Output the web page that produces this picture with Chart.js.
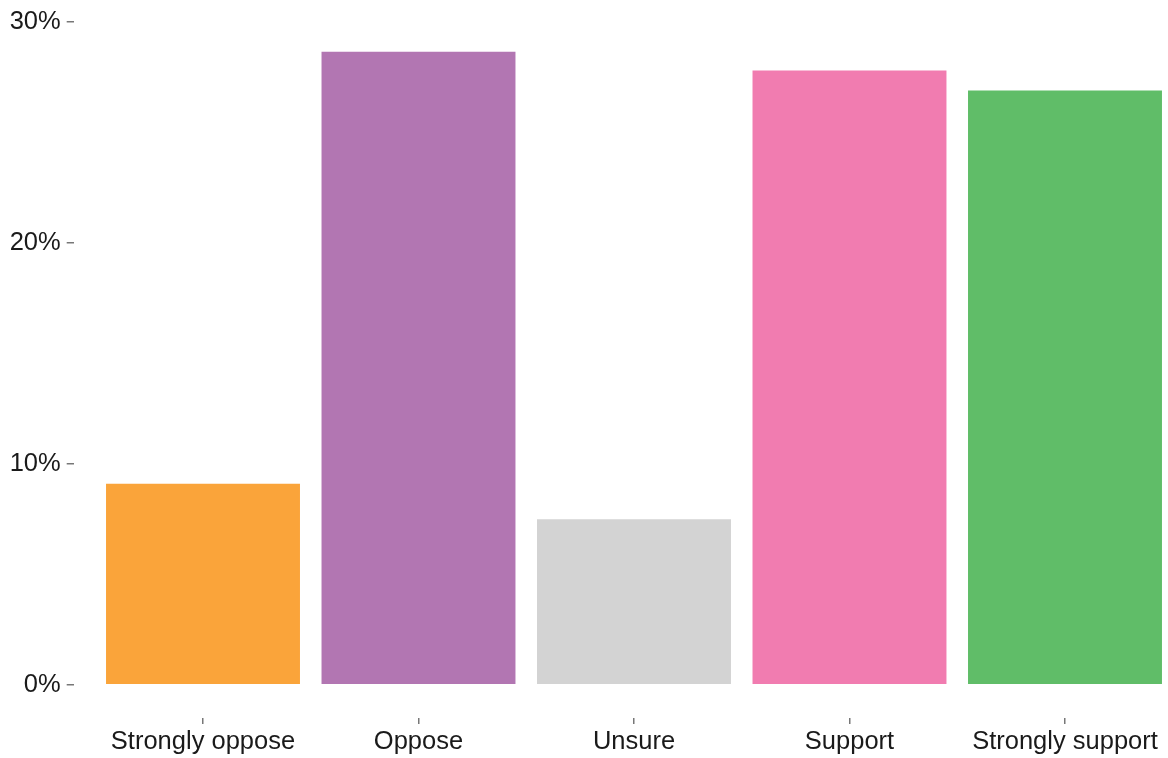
<!DOCTYPE html>
<html>
<head>
<meta charset="utf-8">
<script src="https://cdn.jsdelivr.net/npm/chart.js@4"></script>
<style>
  html, body { margin: 0; padding: 0; background: #fff; overflow: hidden; }
  #wrap { width: 1168px; height: 758px; position: relative; }
</style>
</head>
<body>
<div id="wrap"><canvas id="chart"></canvas></div>
<script>
// Datos del gráfico
const categories = ['Strongly oppose', 'Oppose', 'Unsure', 'Support', 'Strongly support'];
const shares = [9.1, 28.65, 7.5, 27.8, 26.9];
const barColors = ['#FAA43A', '#B276B2', '#D3D3D3', '#F17CB0', '#60BD68'];
const yTicks = [0, 10, 20, 30];

// posiciones de las barras en el eje (1..5)
const points = categories.map((c, i) => ({ x: i + 1, y: shares[i] }));

const fontBase = { family: '"Liberation Sans", Arial, Helvetica, sans-serif', size: 25.5 };

new Chart(document.getElementById('chart').getContext('2d'), {
    type: 'bar',
    data: {
        datasets: [{
            data: points,
            backgroundColor: barColors,
            borderWidth: 0,
            barPercentage: 0.9,
            categoryPercentage: 1
        }]
    },
    options: {
        responsive: true,
        maintainAspectRatio: false,
        animation: false,
        layout: { padding: { top: 22, left: 0, right: 0, bottom: 0 } },
        plugins: {
            legend: { display: false },
            tooltip: { enabled: false }
        },
        scales: {
            x: {
                type: 'linear',
                min: 0.4,
                max: 5.478,
                offset: false,
                border: { display: false },
                grid: {
                    offset: false,
                    drawOnChartArea: false,
                    drawTicks: true,
                    tickLength: 6,
                    tickColor: '#777',
                    lineWidth: 1.5
                },
                afterBuildTicks: axis => {
                    axis.ticks = categories.map((c, i) => ({ value: i + 1 }));
                },
                afterFit: axis => { axis.height = 40; },
                ticks: {
                    padding: 3,
                    color: '#1a1a1a',
                    font: fontBase,
                    maxRotation: 0,
                    autoSkip: false,
                    callback: v => categories[Math.round(v) - 1] || ''
                }
            },
            y: {
                min: -1.5,
                max: 30,
                border: { display: false },
                grid: {
                    drawOnChartArea: false,
                    drawTicks: true,
                    tickLength: 7,
                    tickColor: '#777',
                    lineWidth: 1.5
                },
                afterBuildTicks: axis => {
                    axis.ticks = yTicks.map(v => ({ value: v }));
                },
                afterFit: axis => { axis.width = 73.7; },
                ticks: {
                    padding: 6,
                    color: '#1a1a1a',
                    font: fontBase,
                    callback: v => v + '%'
                }
            }
        }
    }
});
</script>
</body>
</html>
